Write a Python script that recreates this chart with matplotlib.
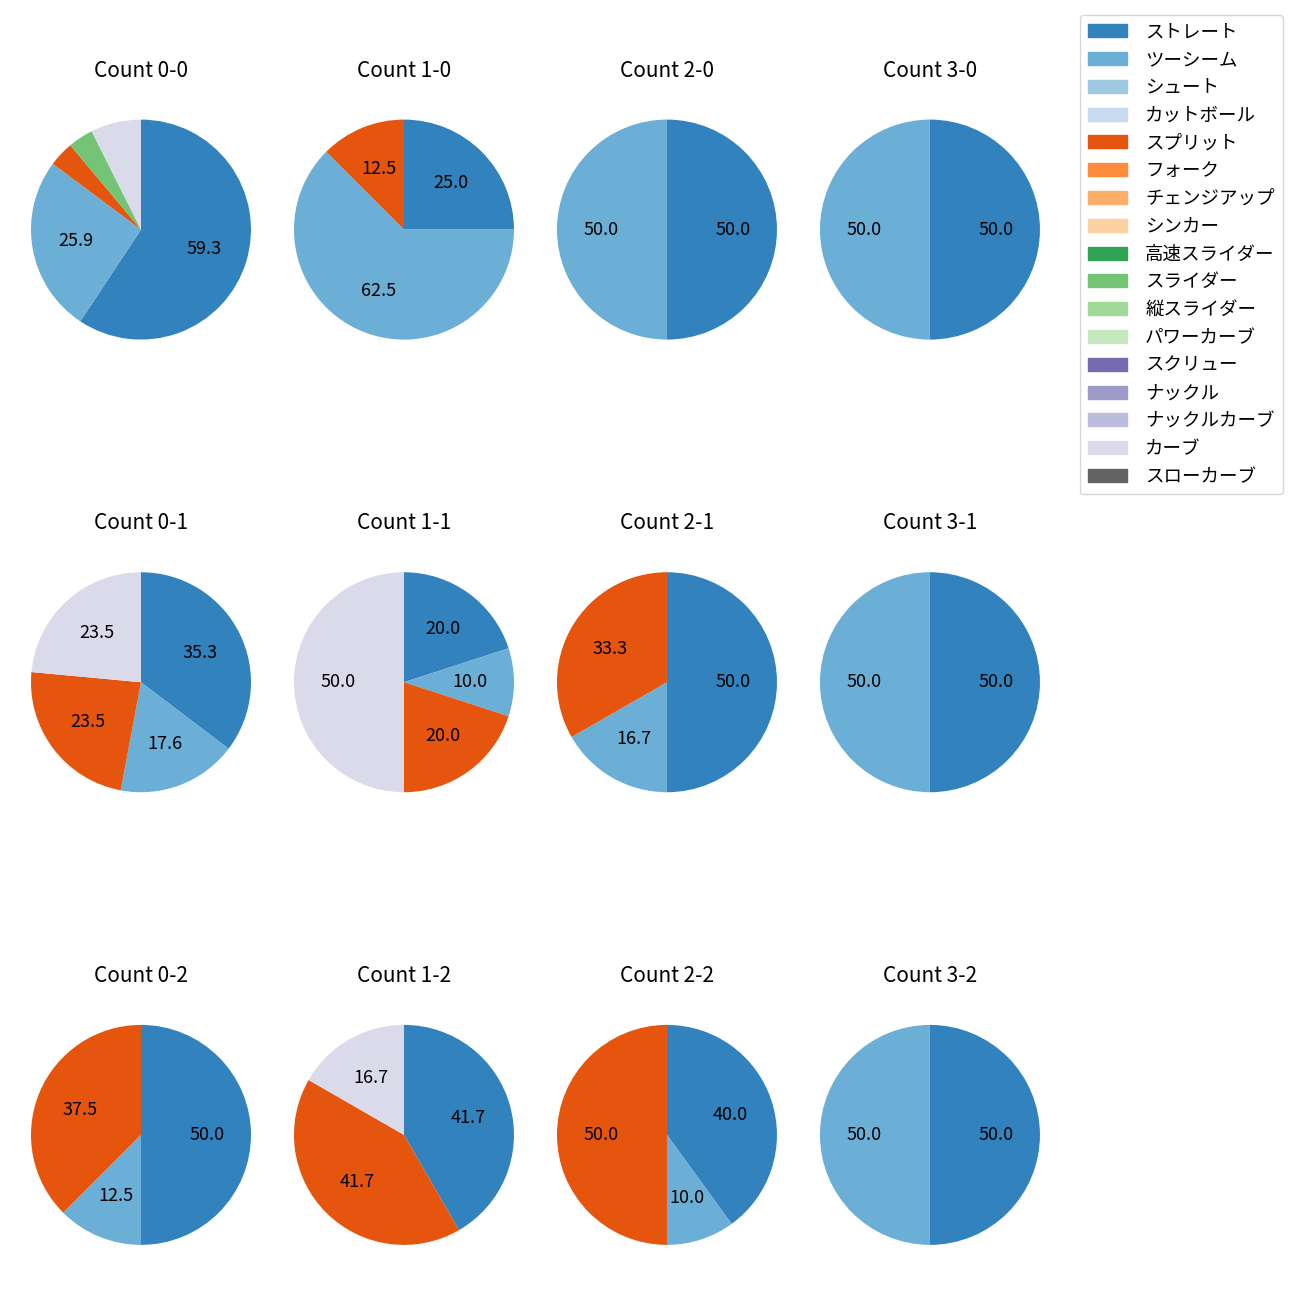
import matplotlib
matplotlib.use("Agg")
import matplotlib.pyplot as plt
from matplotlib.patches import Patch

plt.rcParams['font.family'] = ['Noto Sans CJK JP', 'DejaVu Sans']

# 球種と色 (tab20c)
pitch_types = ['ストレート', 'ツーシーム', 'シュート', 'カットボール', 'スプリット', 'フォーク',
               'チェンジアップ', 'シンカー', '高速スライダー', 'スライダー', '縦スライダー',
               'パワーカーブ', 'スクリュー', 'ナックル', 'ナックルカーブ', 'カーブ', 'スローカーブ']
pitch_colors = ['#3182bd', '#6baed6', '#9ecae1', '#c6dbef', '#e6550d', '#fd8d3c',
                '#fdae6b', '#fdd0a2', '#31a354', '#74c476', '#a1d99b', '#c7e9c0',
                '#756bb1', '#9e9ac8', '#bcbddc', '#dadaeb', '#636363']

# カウント別の投球割合 (%)
count_00 = {'ストレート': 59.3, 'ツーシーム': 25.9, 'スプリット': 3.7, 'スライダー': 3.7, 'カーブ': 7.4}
count_10 = {'ストレート': 25.0, 'ツーシーム': 62.5, 'スプリット': 12.5}
count_20 = {'ストレート': 50.0, 'ツーシーム': 50.0}
count_30 = {'ストレート': 50.0, 'ツーシーム': 50.0}
count_01 = {'ストレート': 35.3, 'ツーシーム': 17.6, 'スプリット': 23.5, 'カーブ': 23.5}
count_11 = {'ストレート': 20.0, 'ツーシーム': 10.0, 'スプリット': 20.0, 'カーブ': 50.0}
count_21 = {'ストレート': 50.0, 'ツーシーム': 16.7, 'スプリット': 33.3}
count_31 = {'ストレート': 50.0, 'ツーシーム': 50.0}
count_02 = {'ストレート': 50.0, 'ツーシーム': 12.5, 'スプリット': 37.5}
count_12 = {'ストレート': 41.7, 'スプリット': 41.7, 'カーブ': 16.7}
count_22 = {'ストレート': 40.0, 'ツーシーム': 10.0, 'スプリット': 50.0}
count_32 = {'ストレート': 50.0, 'ツーシーム': 50.0}

counts = [
    [('0-0', count_00), ('1-0', count_10), ('2-0', count_20), ('3-0', count_30)],
    [('0-1', count_01), ('1-1', count_11), ('2-1', count_21), ('3-1', count_31)],
    [('0-2', count_02), ('1-2', count_12), ('2-2', count_22), ('3-2', count_32)],
]

color_map = dict(zip(pitch_types, pitch_colors))

fig, axes = plt.subplots(3, 4, figsize=(13, 13))
fig.subplots_adjust(left=0.0123, right=0.8115, top=0.935, bottom=0.0154, wspace=0.052, hspace=0.56)

for r, row in enumerate(counts):
    for c, (label, data) in enumerate(row):
        ax = axes[r][c]
        names = [p for p in pitch_types if p in data]
        vals = [data[p] for p in names]
        cols = [color_map[p] for p in names]
        ax.pie(vals, colors=cols, startangle=90, counterclock=False, radius=1.1,
               autopct=lambda p: f'{p:.1f}' if p >= 10 else '',
               textprops={'fontsize': 13})
        ax.set_title(f'Count {label}', fontsize=15, pad=20)

handles = [Patch(color=col, label=name) for name, col in zip(pitch_types, pitch_colors)]
fig.legend(handles=handles, loc='upper right', bbox_to_anchor=(0.987, 0.9885),
           borderaxespad=0, fontsize=13.3, handlelength=2.1, handletextpad=1.0,
           labelspacing=0.53, borderpad=0.45)

plt.savefig('out.png', dpi=100)
